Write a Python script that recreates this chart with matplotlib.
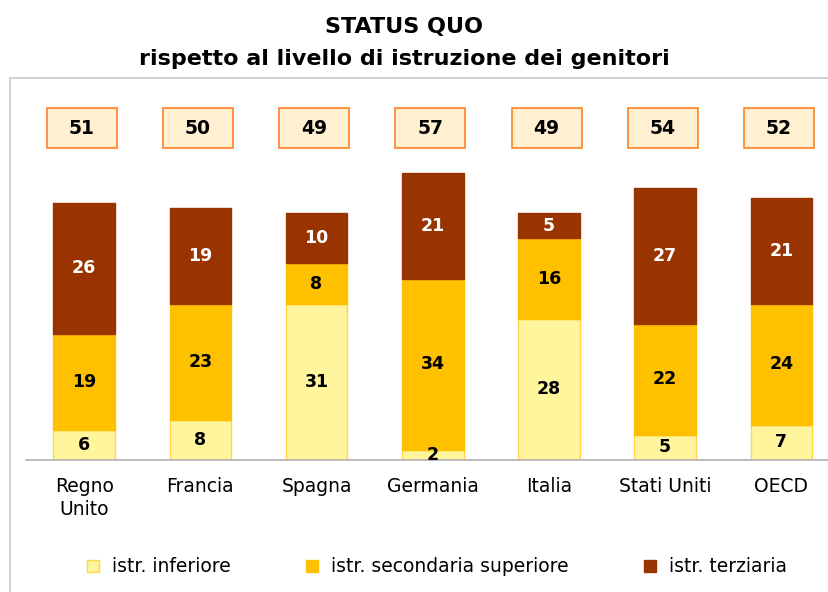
import matplotlib.pyplot as plt
from matplotlib.patches import Rectangle, Patch
import numpy as np

# ---------------- Data ----------------
countries = ["Regno\nUnito", "Francia", "Spagna", "Germania", "Italia", "Stati Uniti", "OECD"]
inferiore = [6, 8, 31, 2, 28, 5, 7]
secondaria = [19, 23, 8, 34, 16, 22, 24]
terziaria = [26, 19, 10, 21, 5, 27, 21]
totali = [51, 50, 49, 57, 49, 54, 52]

series_names = ["istr. inferiore", "istr. secondaria superiore", "istr. terziaria"]
COLORS = ["#FFF59D", "#FFC000", "#993300"]
EDGES = ["#FFD54A", "#FFC000", "#993300"]
TEXT_COLORS = ["black", "black", "white"]

plt.rcParams["font.family"] = ["DejaVu Sans"]

fig = plt.figure(figsize=(8.29, 5.92), dpi=100)
W, H = 829, 592

# outer grey frame (cut by right/bottom edge like the reference)
fig.patches.append(Rectangle((10 / W, -0.1), 1.2, (H - 78) / H + 0.1,
                             transform=fig.transFigure, fill=False,
                             edgecolor="#C8C8C8", linewidth=1.2))

# title
fig.text(404 / W, 1 - 27 / H, "STATUS QUO", ha="center", va="center",
         fontsize=16, fontweight="bold")
fig.text(404 / W, 1 - 59 / H, "rispetto al livello di istruzione dei genitori",
         ha="center", va="center", fontsize=16, fontweight="bold")

# axes: baseline at y=460px, from x=26px to right edge
ax_left, ax_right = 26 / W, 1.0
ax_bottom, ax_top = 1 - 460 / H, 1 - 85 / H
ax = fig.add_axes([ax_left, ax_bottom, ax_right - ax_left, ax_top - ax_bottom])
px_per_unit = 5.04
ax.set_ylim(0, (460 - 85) / px_per_unit)
ax.set_xlim(-0.5, 6.41)
px_per_x = (W - 26) / 6.91

x = np.arange(len(countries))
bottoms = np.zeros(len(countries))
for vals, col, ec, tc in zip([inferiore, secondaria, terziaria], COLORS, EDGES, TEXT_COLORS):
    vals = np.array(vals)
    ax.bar(x, vals, width=0.53, bottom=bottoms, color=col, edgecolor=ec,
           linewidth=1, zorder=2)
    for xi, b, v in zip(x, bottoms, vals):
        ax.text(xi, b + v / 2, str(v), ha="center", va="center",
                fontsize=12.5, fontweight="bold", color=tc, zorder=3)
    bottoms = bottoms + vals

# total boxes (70 x 40 px)
box_y = (460 - 128) / px_per_unit
bw, bh = 70 / px_per_x, 40 / px_per_unit
for xi, t in zip(x, totali):
    cx = xi - 0.02
    ax.add_patch(Rectangle((cx - bw / 2, box_y - bh / 2), bw, bh, facecolor="#FFF0D2",
                           edgecolor="#FF7F27", linewidth=1.2, clip_on=False, zorder=2))
    ax.text(cx, box_y, str(t), ha="center", va="center", fontsize=13.5,
            fontweight="bold", zorder=3)

for side in ["top", "right", "left"]:
    ax.spines[side].set_visible(False)
ax.spines["bottom"].set_color("#B0B0B0")
ax.spines["bottom"].set_linewidth(1.2)
ax.set_yticks([])
ax.set_xticks(x)
ax.set_xticklabels(countries, fontsize=13.5, linespacing=1.3)
ax.tick_params(axis="x", length=0, pad=12)

handles = [Patch(facecolor=c, edgecolor=e) for c, e in zip(COLORS, EDGES)]
fig.legend(handles, series_names, loc="center", bbox_to_anchor=(437 / W, 1 - 567 / H),
           ncol=3, frameon=False, fontsize=13.5, handlelength=0.65, handleheight=0.65,
           handletextpad=0.7, columnspacing=4.0)

fig.savefig("out.png", dpi=100)
